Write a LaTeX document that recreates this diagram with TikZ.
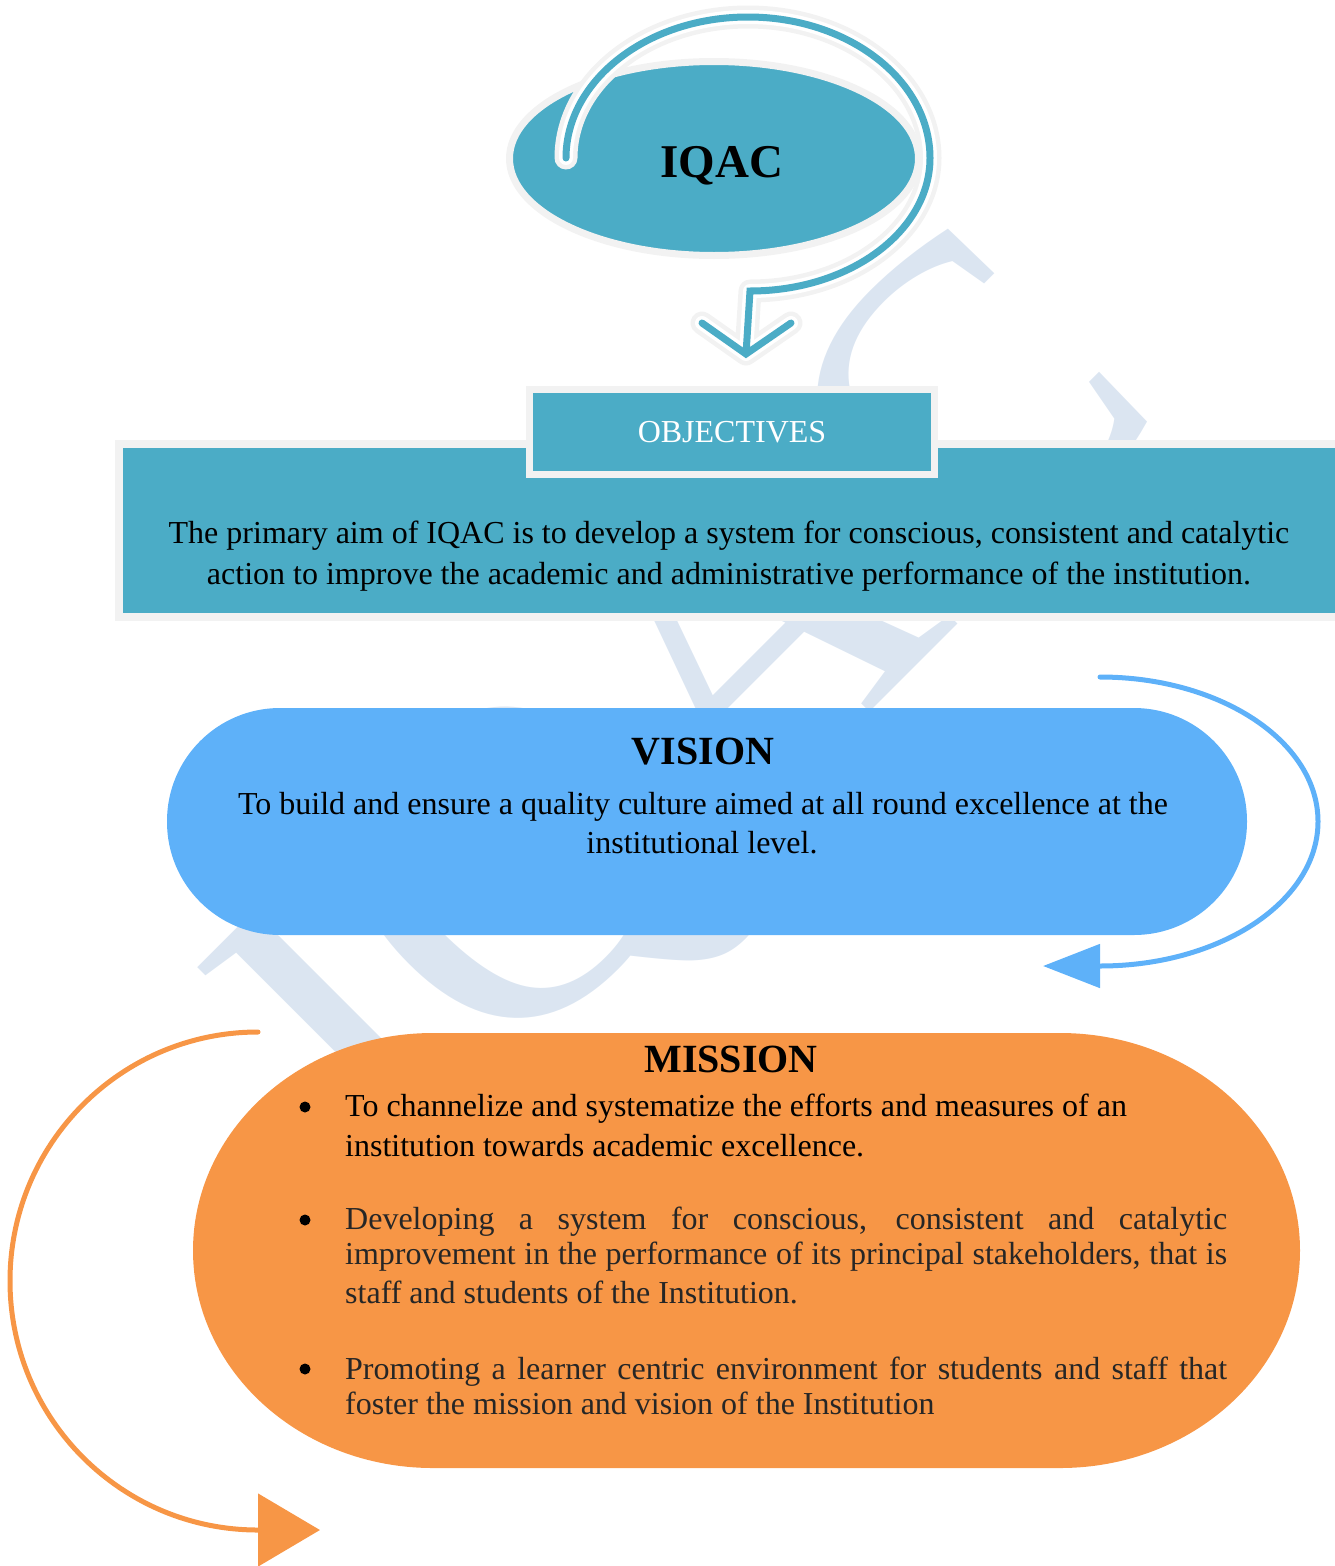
\documentclass[tikz,border=0pt]{standalone}
\usepackage{fontspec}
\setmainfont{Liberation Serif}
\usetikzlibrary{arrows.meta,shapes.geometric}
\definecolor{iqteal}{HTML}{4BACC6}
\definecolor{iqgray}{HTML}{F2F2F2}
\definecolor{visblue}{HTML}{5EB1F9}
\definecolor{misorange}{HTML}{F79646}
\definecolor{wmblue}{HTML}{DBE5F1}
\definecolor{misgray}{HTML}{262626}
\begin{document}
\begin{tikzpicture}[x=1pt,y=-1pt,
  bodytext/.style={inner sep=0pt, anchor=base, font=\fontsize{32}{36}\selectfont},
  leftline/.style={inner sep=0pt, anchor=base west, font=\fontsize{32}{36}\selectfont},
  headtext/.style={inner sep=0pt, anchor=base, font=\fontsize{40}{48}\selectfont\bfseries},
  bulletdot/.style={circle, fill=black, minimum size=11pt, inner sep=0pt},
  curvearrow/.style={line width=5pt, line cap=round}
]
\useasboundingbox (0,0) rectangle (1335,1566);
\clip (0,0) rectangle (1335,1566);

% watermark
\node[inner sep=0pt, anchor=base west, rotate=45, text=wmblue,
      font=\fontsize{450}{450}\selectfont] (wmark) at (394.5,1187.7) {IQAC};

% IQAC ellipse
\node[ellipse, draw=iqgray, fill=iqteal, line width=7pt, inner sep=0pt,
      minimum width=409pt, minimum height=194pt] (iqac) at (714,158.5) {};
\node[inner sep=0pt, anchor=base, font=\fontsize{47}{52}\selectfont\bfseries]
      (iqactext) at (722,177) {IQAC};

% looping arrow from IQAC to objectives
\coordinate (arS) at (566,158);
\coordinate (arV) at (746,354);
\coordinate (arL) at (702,323);
\coordinate (arR) at (791,323);
\path[draw=white, line width=14pt, line cap=round, line join=round,
  preaction={draw=iqgray, line width=23pt, line cap=round, line join=round},
  postaction={draw=iqteal, line width=7pt, line cap=round, line join=miter}]
  (arS) arc[start angle=180, end angle=360, x radius=182, y radius=141]
        arc[start angle=0, end angle=90, x radius=180, y radius=133] -- (arV)
  (arL) -- (arV) -- (arR);

% objectives
\node[draw=iqgray, fill=iqteal, line width=8pt, inner sep=0pt,
      minimum width=1226pt, minimum height=173pt] (objbody) at (732,530.5) {};
\node[draw=iqgray, fill=iqteal, line width=7pt, inner sep=0pt, text=white,
      minimum width=405pt, minimum height=85pt,
      font=\fontsize{32}{36}\selectfont] (objhead) at (732,432) {OBJECTIVES};
\node[bodytext] (obj1) at (729,543) {The primary aim of IQAC is to develop a system for conscious, consistent and catalytic};
\node[bodytext] (obj2) at (729,584) {action to improve the academic and administrative performance of the institution.};

% vision
\node[fill=visblue, rounded corners=113pt, inner sep=0pt,
      minimum width=1080pt, minimum height=227pt] (vision) at (707,821.5) {};
\node[headtext] (vistitle) at (703,764) {VISION};
\node[bodytext] (vis1) at (703,814) {To build and ensure a quality culture aimed at all round excellence at the};
\node[bodytext] (vis2) at (702,853) {institutional level.};

% vision arrow
\coordinate (vA) at (1100,677);
\coordinate (vT) at (1043,966);
\draw[curvearrow, draw=visblue, -{Triangle[length=57pt, width=43pt]}]
  (vA) arc[start angle=-90, end angle=90, x radius=218, y radius=144.5] -- (vT);

% mission
\path[fill=misorange] (433,1033) -- (1060,1033)
  arc[start angle=270, end angle=450, x radius=240, y radius=217.5]
  -- (433,1468)
  arc[start angle=90, end angle=270, x radius=240, y radius=217.5] -- cycle;
\coordinate (mission) at (746,1250);
\node[headtext] (mistitle) at (731,1072) {MISSION};
\node[bulletdot] (b1) at (305,1107) {};
\node[bulletdot] (b2) at (305,1220) {};
\node[bulletdot] (b3) at (305,1369) {};
\node[leftline] (m1a) at (345,1116) {To channelize and systematize the efforts and measures of an};
\node[leftline] (m1b) at (345,1156) {institution towards academic excellence.};
\node[leftline, text=misgray] (m2a) at (345,1229) {\makebox[882pt][s]{Developing a system for conscious, consistent and catalytic}};
\node[leftline, text=misgray] (m2b) at (345,1264) {\makebox[882pt][s]{improvement in the performance of its principal stakeholders, that is}};
\node[leftline, text=misgray] (m2c) at (345,1303) {staff and students of the Institution.};
\node[leftline, text=misgray] (m3a) at (345,1379) {\makebox[882pt][s]{Promoting a learner centric environment for students and staff that}};
\node[leftline, text=misgray] (m3b) at (345,1414) {foster the mission and vision of the Institution};

% mission arrow
\coordinate (mA) at (258,1032);
\coordinate (mT) at (320,1530);
\draw[curvearrow, draw=misorange, -{Triangle[length=62pt, width=72pt]}]
  (mA) arc[start angle=270, end angle=90, x radius=248, y radius=249] -- (mT);
\end{tikzpicture}
\end{document}
